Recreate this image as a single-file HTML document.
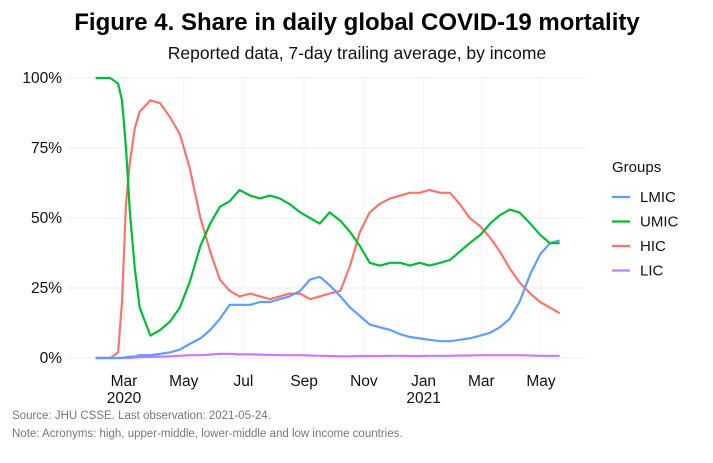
<!DOCTYPE html>
<html><head><meta charset="utf-8"><style>
body{margin:0;background:#fff;font-family:"Liberation Sans",sans-serif}
svg text{font-family:"Liberation Sans",sans-serif}
</style></head><body>
<svg width="713" height="458">
<text x="357" y="30" text-anchor="middle" font-size="24" font-weight="bold" fill="#000">Figure 4. Share in daily global COVID-19 mortality</text>
<text x="357" y="59" text-anchor="middle" font-size="17.5" fill="#111">Reported data, 7-day trailing average, by income</text>
<g id="grid"></g><g id="yticks"></g><g id="xticks"></g><g id="lines"></g>
<text x="612" y="172" font-size="15" fill="#111">Groups</text>
<g id="legend"></g>
<text x="12" y="419" font-size="11.5" fill="#777">Source: JHU CSSE. Last observation: 2021-05-24.</text>
<text x="12" y="437" font-size="11.5" fill="#777">Note: Acronyms: high, upper-middle, lower-middle and low income countries.</text>
</svg>
<script>
// days since 2020-03-01
const days=[-29,-14,-6,-2,2,6,11,16,27,37,47,57,67,78,88,98,108,118,129,139,149,159,169,180,190,200,210,221,231,241,251,261,272,282,292,302,312,323,333,343,353,364,374,384,394,404,415,425,435,445];
const umic=[100,100,98,92,75,52,32,18,8,10,13,18,27,40,48,54,56,60,58,57,58,57,55,52,50,48,52,49,45,40,34,33,34,34,33,34,33,34,35,38,41,44,48,51,53,52,48,44,41,41];
const hic=[0,0,2,20,55,70,82,88,92,91,86,80,68,50,38,28,24,22,23,22,21,22,23,23,21,22,23,24,33,45,52,55,57,58,59,59,60,59,59,55,50,47,43,38,32,27,23,20,18,16];
const lmic=[0,0,0,0,0.3,0.5,0.5,1,1,1.5,2,3,5,7,10,14,19,19,19,20,20,21,22,24,28,29,26,22,18,15,12,11,10,8.5,7.5,7,6.5,6,6,6.5,7,8,9,11,14,20,30,37,41,42];
const lic=[0,0,0,0,0,0,0.2,0.3,0.4,0.5,0.6,0.8,1,1,1.2,1.5,1.5,1.3,1.3,1.2,1.1,1,1,1,0.9,0.8,0.7,0.6,0.6,0.7,0.7,0.7,0.8,0.8,0.7,0.7,0.8,0.8,0.8,0.9,0.9,1,1,1,1,1,0.9,0.8,0.8,0.8];
const yTicks=[0,25,50,75,100];
const xTickDays=[0,61,122,184,245,306,365,426];
const xTickLabels=["Mar","May","Jul","Sep","Nov","Jan","Mar","May"];
const xTickYears=["2020","","","","","2021","",""];
const NS="http://www.w3.org/2000/svg";
const X=d=>124+d*0.979, Y=v=>358-v*2.8;
function mk(tag,attrs,parent){const e=document.createElementNS(NS,tag);for(const k in attrs)e.setAttribute(k,attrs[k]);document.getElementById(parent).appendChild(e);return e;}
yTicks.forEach(t=>{
 const g=mk('line',{x1:68,x2:585,y1:Y(t),y2:Y(t),stroke:'#ebebeb','stroke-width':1},'grid');
 
 
 const tx=mk('text',{x:62,y:Y(t)+5,'text-anchor':'end','font-size':15.5,fill:'#111'},'yticks');
 tx.textContent=t+'%';
 
 
});
xTickDays.forEach((d,i)=>{
 const g=mk('line',{x1:X(d),x2:X(d),y1:78,y2:358,stroke:'#f3f3f3','stroke-width':1},'grid');
 
 
 const tx=mk('text',{x:X(d),y:386,'text-anchor':'middle','font-size':15.5,fill:'#111'},'xticks');
 tx.textContent=xTickLabels[i];
 
 
 if(xTickYears[i]){const ty=mk('text',{x:X(d),y:403,'text-anchor':'middle','font-size':15.5,fill:'#111'},'xticks');ty.textContent=xTickYears[i];
 
 }
});
const series=[["lic",lic,"#c77cff","LIC"],["hic",hic,"#f8766d","HIC"],["lmic",lmic,"#619cff","LMIC"],["umic",umic,"#00ba38","UMIC"]];
series.forEach(s=>{
 const p=mk('polyline',{points:days.map((d,i)=>X(d).toFixed(1)+','+Y(s[1][i]).toFixed(1)).join(' '),fill:'none',stroke:s[2],'stroke-width':2.2,'stroke-linejoin':'round'},'lines');
 
 
});
[["LMIC","#619cff"],["UMIC","#00ba38"],["HIC","#f8766d"],["LIC","#c77cff"]].forEach((l,i)=>{
 const y=197+i*24.5;
 const ln=mk('line',{x1:612,x2:630,y1:y,y2:y,stroke:l[1],'stroke-width':2.2},'legend');
 
 
 const t=mk('text',{x:640,y:y+5,'font-size':15,fill:'#111'},'legend');
 t.textContent=l[0];
 
 
});
</script>
</body></html>
